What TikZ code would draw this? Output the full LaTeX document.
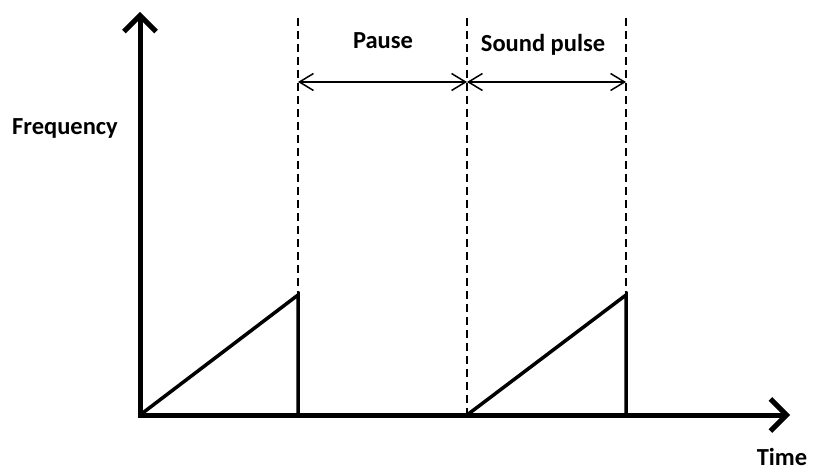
\documentclass[tikz,border=0pt]{standalone}
\usepackage{fontspec}
\setmainfont{Carlito}
\usetikzlibrary{arrows.meta, positioning, calc}
\definecolor{inkblack}{RGB}{0, 0, 0}
\tikzset{
    axis/.style={-{Straight Barb[length=16pt, width=32pt]}, line width=5pt, color=inkblack},
    ramp/.style={line width=3.5pt, color=inkblack, line cap=round},
    guide/.style={dashed, dash pattern=on 8pt off 5pt, line width=1.6pt, color=inkblack},
    span/.style={{Straight Barb[length=14pt, width=17pt]}-{Straight Barb[length=14pt, width=17pt]}, line width=1.5pt, color=inkblack},
    label/.style={font=\fontsize{24.5}{28}\selectfont\bfseries, color=inkblack, inner sep=0pt},
}
\begin{document}
\begin{tikzpicture}[x=1pt, y=-1pt]
    \useasboundingbox (0,0) rectangle (813,473);

    % axes
    \coordinate (origin) at (140,415);
    \coordinate (ytop) at (140,12);
    \coordinate (xend) at (790,415);

    % ramp corners
    \coordinate (peakA) at (298,295);
    \coordinate (footA) at (298,415);
    \coordinate (startB) at (467,415);
    \coordinate (peakB) at (626,295);
    \coordinate (footB) at (626,415);

    % top of the guides
    \coordinate (guideA) at (298,18);
    \coordinate (guideB) at (467,18);
    \coordinate (guideC) at (626,18);

    \draw[guide] (guideA) -- (peakA);
    \draw[guide] (guideB) -- (startB);
    \draw[guide] (guideC) -- (peakB);

    \draw[ramp] (origin) -- (peakA) -- (footA);
    \draw[ramp] (startB) -- (peakB) -- (footB);

    \draw[axis] (origin) -- (ytop);
    \draw[axis] ($(origin)+(-2.5,0)$) -- (xend);

    \coordinate (spanA) at (298,82);
    \coordinate (spanB) at (467,82);
    \coordinate (spanC) at (626,82);
    \draw[span] (spanA) -- (spanB);
    \draw[span] (spanB) -- (spanC);

    \node[label] (pause) at (383,41) {Pause};
    \node[label] (pulse) at (543,45) {Sound pulse};
    \node[label] (freq) at (65,128) {Frequency};
    \node[label] (time) at (782,457) {Time};
\end{tikzpicture}
\end{document}
